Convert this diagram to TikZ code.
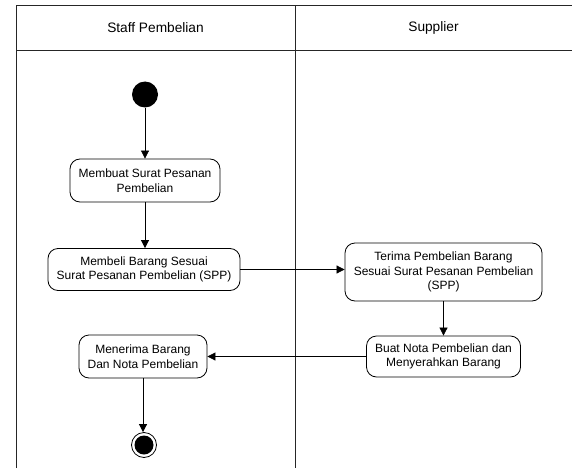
\documentclass[tikz,border=0pt]{standalone}
\usepackage{fontspec}
\setmainfont{Liberation Sans}
\usetikzlibrary{arrows.meta}
\begin{document}
\begin{tikzpicture}[x=1pt,y=-1pt,
  lane/.style={line width=0.9pt, draw=black!85},
  activity/.style={draw, line width=0.8pt, rounded corners=10pt, align=center,
    inner sep=2pt, font=\fontsize{12}{14.5}\selectfont},
  flow/.style={line width=0.7pt, -{Triangle[length=8pt,width=8pt]}},
  header/.style={font=\fontsize{13.7}{16}\selectfont}]
  \useasboundingbox (0,0) rectangle (572,468);

  % swimlane frame
  \draw[lane] (16,468) -- (16,5.5) -- (572,5.5);
  \draw[lane] (16,50) -- (572,50);
  \draw[lane] (295,5.5) -- (295,468);
  \node[header] (laneA) at (155.5,28) {Staff Pembelian};
  \node[header] (laneB) at (433.5,28) {Supplier};

  % activities
  \node[circle, fill=black, minimum size=26pt, inner sep=0pt] (start) at (145,94.5) {};
  \node[activity, minimum width=150pt, minimum height=43pt] (a1) at (145,180.5)
    {Membuat Surat Pesanan\\Pembelian};
  \node[activity, minimum width=192pt, minimum height=42pt] (a2) at (144,269.5)
    {Membeli Barang Sesuai\\Surat Pesanan Pembelian (SPP)};
  \node[activity, minimum width=197pt, minimum height=58pt] (a3) at (443.5,272)
    {Terima Pembelian Barang\\Sesuai Surat Pesanan Pembelian\\(SPP)};
  \node[activity, minimum width=154pt, minimum height=41pt] (a4) at (443.5,356.5)
    {Buat Nota Pembelian dan\\Menyerahkan Barang};
  \node[activity, minimum width=128pt, minimum height=43pt] (a5) at (143,356.5)
    {Menerima Barang\\Dan Nota Pembelian};
  \node[circle, draw, line width=0.8pt, minimum size=25pt, inner sep=0pt,
    path picture={\fill (path picture bounding box.center) circle (9.5pt);}]
    (stop) at (144,445) {};

  % control flow
  \draw[flow] (start.south) -- (start.south |- a1.north);
  \draw[flow] (a1.south) -- (a1.south |- a2.north);
  \draw[flow] (a2.east) -- (a2.east -| a3.west);
  \draw[flow] (a3.south) -- (a3.south |- a4.north);
  \draw[flow] (a4.west) -- (a4.west -| a5.east);
  \draw[flow] (a5.south) -- (a5.south |- stop.north);
\end{tikzpicture}
\end{document}
